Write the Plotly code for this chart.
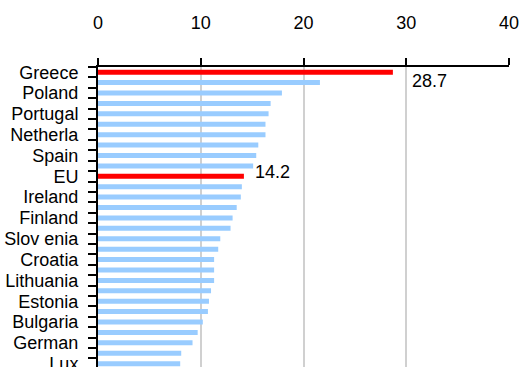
import plotly.graph_objects as go

# Rows from top to bottom; only every other row carries a label
labels = ["Greece", "", "Poland", "", "Portugal", "", "Netherla", "", "Spain", "",
          "EU", "", "Ireland", "", "Finland", "", "Slov enia", "", "Croatia", "",
          "Lithuania", "", "Estonia", "", "Bulgaria", "", "German", "", "Lux"]
values = [28.7, 21.6, 17.9, 16.8, 16.6, 16.3, 16.3, 15.6, 15.4, 15.1,
          14.2, 14.0, 13.9, 13.5, 13.1, 12.9, 11.9, 11.7, 11.3, 11.3,
          11.3, 11.0, 10.8, 10.7, 10.2, 9.7, 9.2, 8.1, 8.0]
highlight = ["Greece", "EU"]
x_ticks = [0, 10, 20, 30, 40]

RED = "#FF0000"
BLUE = "#99CCFF"
FONT = "Liberation Sans, Arial, sans-serif"
FS = 18

rows = list(range(len(values)))
colors = [RED if lab in highlight else BLUE for lab in labels]

fig = go.Figure()
fig.add_trace(go.Bar(
    x=values, y=rows, orientation="h",
    marker=dict(color=colors, line=dict(width=0)),
    width=0.48, hoverinfo="x+y",
))

# value labels for the highlighted rows
label_offsets = {"Greece": (17, -9), "EU": (9, 4)}
for i, lab in enumerate(labels):
    if lab in highlight:
        dx, dy = label_offsets[lab]
        fig.add_annotation(
            x=values[i], y=i, text=f"{values[i]:.1f}", showarrow=False,
            xanchor="left", yanchor="middle", xshift=dx, yshift=dy,
            font=dict(size=FS, color="#000000", family=FONT),
        )

n = len(values)
boundaries = [k - 0.5 for k in range(n + 1)]
label_rows = [i for i, lab in enumerate(labels) if lab]

fig.update_layout(
    width=523, height=367,
    margin=dict(l=98, r=14, t=67, b=0),
    paper_bgcolor="white", plot_bgcolor="white",
    showlegend=False, bargap=0.5,
    font=dict(family=FONT, size=FS, color="#000000"),
    xaxis=dict(
        side="top", range=[0, 40], tickvals=x_ticks,
        ticktext=[str(t) for t in x_ticks],
        showgrid=True, gridcolor="#D0D0D0", gridwidth=2,
        zeroline=False, showline=True, linecolor="#000000", linewidth=2,
        ticks="outside", ticklen=7, tickwidth=2, tickcolor="#000000",
        ticklabelstandoff=22, automargin=False,
        tickfont=dict(size=FS, family=FONT),
    ),
    yaxis=dict(
        range=[28.32, -0.5], tickvals=label_rows,
        ticktext=[labels[i] for i in label_rows],
        showgrid=False, zeroline=False,
        showline=True, linecolor="#000000", linewidth=2,
        ticks="outside", ticklen=8, tickcolor="rgba(0,0,0,0)",
        ticklabelstandoff=6, automargin=False,
        ticklabeloverflow="allow",
        minor=dict(tickvals=boundaries, ticks="outside", ticklen=8,
                   tickwidth=2, tickcolor="#000000", showgrid=False),
        tickfont=dict(size=FS, family=FONT),
    ),
)

fig.write_html("out.html")
